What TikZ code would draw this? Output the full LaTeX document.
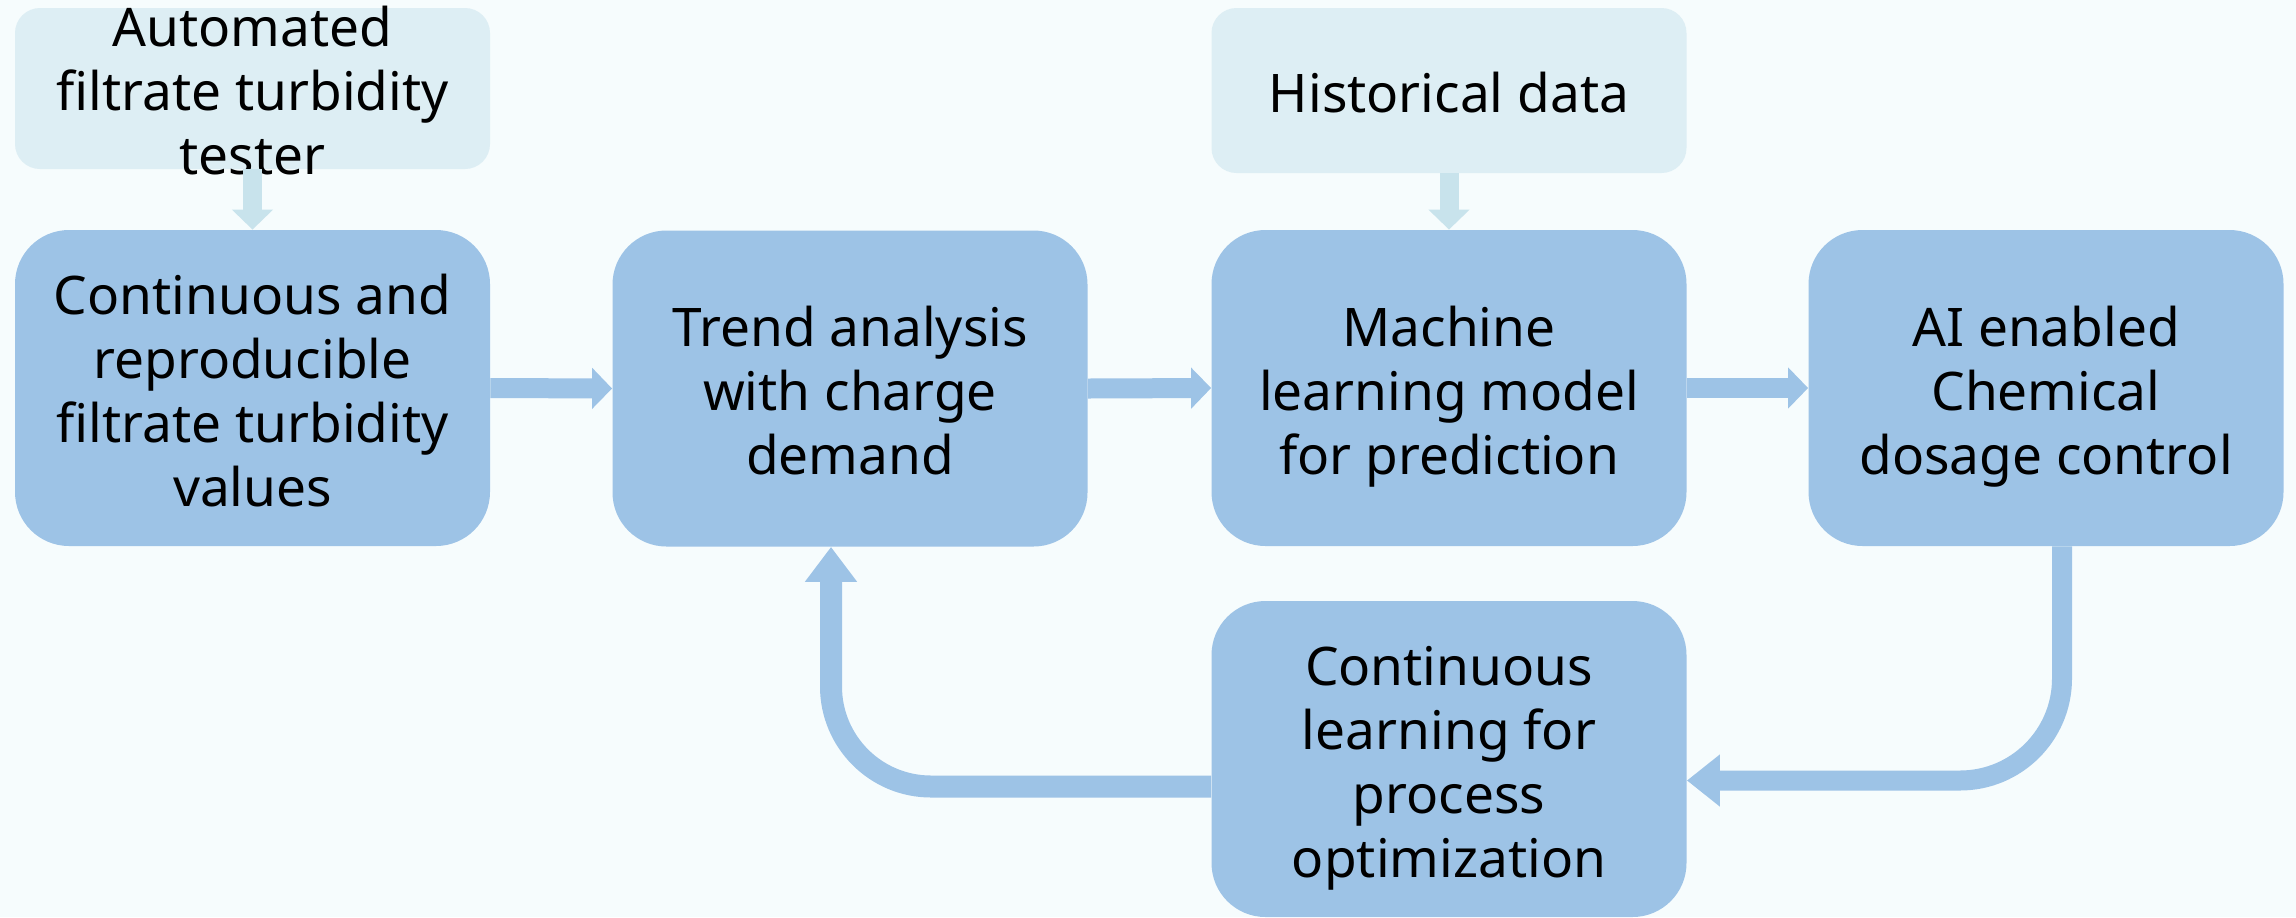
\documentclass[tikz,border=0pt]{standalone}
\usepackage{fontspec}
\setmainfont{Noto Sans}
\usetikzlibrary{arrows.meta}
\definecolor{bgc}{HTML}{F6FCFD}
\definecolor{mainblue}{HTML}{9DC3E6}
\definecolor{lightbox}{HTML}{DDEEF4}
\definecolor{lightarrow}{HTML}{C8E3EC}
% #1 = raise of first baseline above node centre, #2 = lines
\newcommand{\TxtLines}[2]{\raisebox{#1}[0pt][0pt]{\begin{tabular}[t]{@{}c@{}}#2\end{tabular}}}
\tikzset{
  txt/.style={font=\fontsize{26.6}{32}\selectfont, inner sep=0pt},
  mainbox/.style={txt, rectangle, rounded corners=27pt, fill=mainblue, minimum width=237.5pt, minimum height=158pt},
  srcbox/.style={txt, rectangle, rounded corners=12.5pt, fill=lightbox, minimum width=237.5pt},
  flow/.style={draw=mainblue, line width=10pt, -{Triangle[width=20pt,length=10pt]}},
  feed/.style={draw=lightarrow, line width=9.5pt, -{Triangle[width=20pt,length=10pt]}},
  loopr/.style={draw=mainblue, line width=10pt, rounded corners=51pt, -{Triangle[width=25pt,length=16.5pt]}},
  loopl/.style={draw=mainblue, line width=11pt, rounded corners=50pt, -{Triangle[width=25pt,length=17.5pt]}}
}
\begin{document}
\begin{tikzpicture}[x=0.5pt,y=-0.5pt]
\fill[bgc] (0,0) rectangle (2296,917);
\useasboundingbox (0,0) rectangle (2296,917);
\node[srcbox, minimum height=80.5pt] (A) at (252.5,88.5) {\TxtLines{21pt}{Automated\\filtrate turbidity\\tester}};
\node[srcbox, minimum height=82.5pt] (H) at (1449,90.5) {\TxtLines{-10.75pt}{Historical data}};
\node[mainbox] (b1) at (252.5,388) {\TxtLines{37pt}{Continuous and\\reproducible\\filtrate turbidity\\values}};
\node[mainbox] (b2) at (850,388.5) {\TxtLines{21pt}{Trend analysis\\with charge\\demand}};
\node[mainbox] (b3) at (1449,388) {\TxtLines{21pt}{Machine\\learning model\\for prediction}};
\node[mainbox] (b4) at (2046,388) {\TxtLines{21pt}{AI enabled\\Chemical\\dosage control}};
\node[mainbox] (b5) at (1449,759) {\TxtLines{37pt}{Continuous\\learning for\\process\\optimization}};
\draw[feed] (A.south) -- (b1.north);
\draw[feed] (H.south) -- (b3.north);
\draw[flow] (b1.east) -- (b2.west);
\draw[flow] (b2.east) -- (b3.west);
\draw[flow] (b3.east) -- (b4.west);
\draw[loopr] ([xshift=8pt]b4.south) |- ([yshift=-10.75pt]b5.east);
\draw[loopl] ([yshift=-13.75pt]b5.west) -| ([xshift=-9.5pt]b2.south);
\end{tikzpicture}
\end{document}
